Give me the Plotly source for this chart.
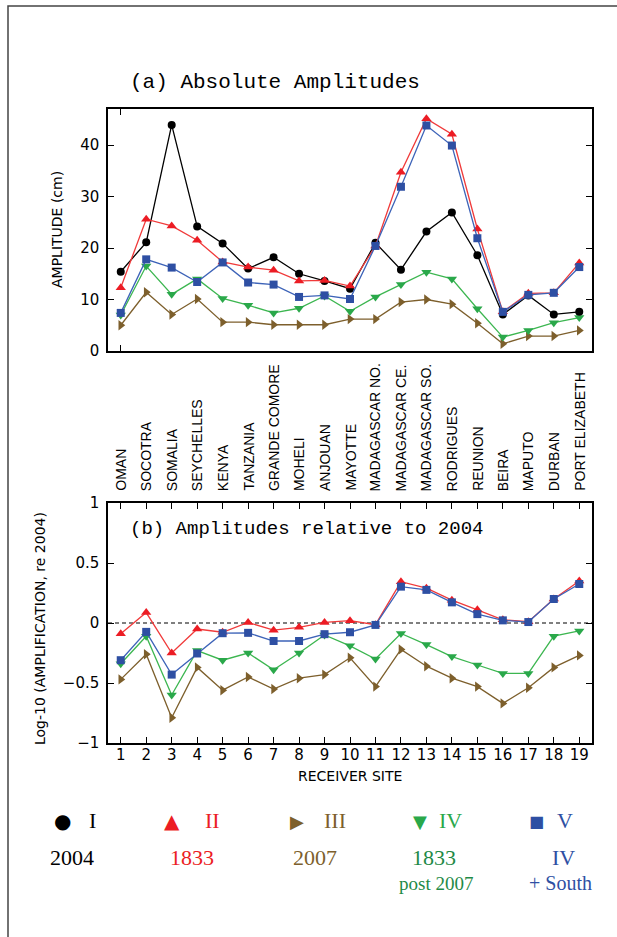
import plotly.graph_objects as go

W, H = 617, 937

sites = list(range(1, 20))
site_names = ["OMAN", "SOCOTRA", "SOMALIA", "SEYCHELLES", "KENYA", "TANZANIA",
              "GRANDE COMORE", "MOHELI", "ANJOUAN", "MAYOTTE", "MADAGASCAR NO.",
              "MADAGASCAR CE.", "MADAGASCAR SO.", "RODRIGUES", "REUNION", "BEIRA",
              "MAPUTO", "DURBAN", "PORT ELIZABETH"]

# (a) absolute amplitudes, cm
amp_I = [15.4, 21.1, 43.9, 24.2, 20.9, 16.0, 18.2, 15.0, 13.6, 12.1, 21.0, 15.8, 23.2, 26.9, 18.6, 7.1, 10.8, 7.1, 7.6]
amp_II = [12.3, 25.6, 24.3, 21.5, 17.3, 16.3, 15.7, 13.6, 13.7, 12.6, 20.4, 34.7, 45.1, 42.1, 23.7, 7.6, 11.2, 11.3, 17.1]
amp_III = [5.0, 11.4, 7.1, 10.1, 5.6, 5.6, 5.1, 5.1, 5.1, 6.2, 6.2, 9.5, 10.0, 9.1, 5.4, 1.4, 2.9, 2.9, 4.0]
amp_IV = [7.0, 16.5, 11.0, 14.0, 10.2, 8.9, 7.4, 8.3, 10.7, 7.7, 10.5, 12.9, 15.3, 14.0, 8.2, 2.7, 4.0, 5.5, 6.5]
amp_V = [7.4, 17.8, 16.2, 13.4, 17.2, 13.3, 12.9, 10.5, 10.8, 10.1, 20.4, 31.9, 43.8, 39.9, 21.9, 7.6, 10.9, 11.3, 16.3]

# (b) log10 amplification relative to 2004
rel_II = [-0.09, 0.087, -0.25, -0.05, -0.077, 0.005, -0.06, -0.036, 0.005, 0.019, -0.014, 0.344, 0.29, 0.19, 0.11, 0.027, 0.011, 0.20, 0.35]
rel_III = [-0.47, -0.26, -0.79, -0.37, -0.56, -0.45, -0.55, -0.46, -0.43, -0.29, -0.53, -0.22, -0.36, -0.46, -0.53, -0.67, -0.54, -0.37, -0.27]
rel_IV = [-0.34, -0.11, -0.60, -0.23, -0.31, -0.25, -0.39, -0.25, -0.10, -0.19, -0.30, -0.087, -0.18, -0.28, -0.35, -0.42, -0.42, -0.11, -0.066]
rel_V = [-0.31, -0.074, -0.43, -0.254, -0.085, -0.082, -0.15, -0.15, -0.093, -0.077, -0.016, 0.303, 0.276, 0.172, 0.074, 0.022, 0.008, 0.20, 0.325]

y_ticks_a = [0, 10, 20, 30, 40]
y_ticks_b = [-1, -0.5, 0, 0.5, 1]
y_ticklabels_b = ["\u22121", "\u22120.5", "0", "0.5", "1"]

BLACK = "#000000"
RED = "#ec1c24"
BROWN = "#7d5f2c"
GREEN = "#2aa84a"
BLUE = "#2e4fa3"
RED_L = "#f03a3a"
GREEN_L = "#3cb650"
BLUE_L = "#3d63b8"


def px(x):
    return x / W


def py(y):
    return 1 - y / H


fig = go.Figure()

series_a = [
    (amp_III, BROWN, BROWN, "triangle-right", 9),
    (amp_IV, GREEN_L, GREEN, "triangle-down", 9),
    (amp_I, BLACK, BLACK, "circle", 8),
    (amp_II, RED_L, RED, "triangle-up", 9),
    (amp_V, BLUE_L, BLUE, "square", 8),
]
for vals, lc, mc, sym, ms in series_a:
    fig.add_trace(go.Scatter(x=sites, y=vals, mode="lines+markers", xaxis="x", yaxis="y",
                             line=dict(color=lc, width=1.3),
                             marker=dict(symbol=sym, size=ms, color=mc, line=dict(width=0)),
                             showlegend=False, hoverinfo="skip"))

series_b = [
    (rel_III, BROWN, BROWN, "triangle-right", 9),
    (rel_IV, GREEN_L, GREEN, "triangle-down", 9),
    (rel_II, RED_L, RED, "triangle-up", 9),
    (rel_V, BLUE_L, BLUE, "square", 8),
]
for vals, lc, mc, sym, ms in series_b:
    fig.add_trace(go.Scatter(x=sites, y=vals, mode="lines+markers", xaxis="x2", yaxis="y2",
                             line=dict(color=lc, width=1.3),
                             marker=dict(symbol=sym, size=ms, color=mc, line=dict(width=0)),
                             showlegend=False, hoverinfo="skip"))

TICKFONT = dict(family="DejaVu Sans", size=15, color="black")

axis_common = dict(showline=True, linecolor="black", linewidth=1.5, mirror="ticks",
                   ticks="inside", ticklen=6, tickwidth=1, tickcolor="black",
                   showgrid=False, zeroline=False, automargin=False, tickfont=TICKFONT)

fig.update_layout(
    width=W, height=H,
    margin=dict(l=0, r=0, t=0, b=0),
    paper_bgcolor="white", plot_bgcolor="white",
    showlegend=False,
    xaxis=dict(domain=[px(108), px(592)], range=[0.5, 19.5], anchor="y",
               tickvals=[1], showticklabels=False, **axis_common),
    yaxis=dict(domain=[py(351), py(109)], range=[0, 47], anchor="x",
               tickvals=y_ticks_a, ticklabelstandoff=4, **axis_common),
    xaxis2=dict(domain=[px(108), px(592)], range=[0.5, 19.5], anchor="y2",
                tickvals=sites, ticktext=[str(s) for s in sites], ticklabelstandoff=-3,
                **axis_common),
    yaxis2=dict(domain=[py(743), py(503)], range=[-1, 1], anchor="x2",
                tickvals=y_ticks_b, ticktext=y_ticklabels_b, ticklabelstandoff=4,
                **axis_common),
)

# zero reference line in panel (b)
fig.add_shape(type="line", xref="x2 domain", yref="y2", x0=0, x1=1, y0=0, y1=0,
              line=dict(color="black", width=1.2, dash="4px,3px"), layer="below")

# outer frame
fig.add_shape(type="rect", xref="paper", yref="paper", x0=px(8), x1=px(W + 20),
              y0=py(H + 20), y1=py(6), line=dict(color="#444444", width=1.5))

ann = []
# panel titles
ann.append(dict(text="(a) Absolute Amplitudes", x=px(128), y=py(82), xanchor="left", yanchor="middle",
                font=dict(family="Liberation Mono", size=21, color="black")))
ann.append(dict(text="(b) Amplitudes relative to 2004", x=px(128), y=py(529), xanchor="left",
                yanchor="middle", font=dict(family="Liberation Mono", size=19, color="black")))
# axis titles
ann.append(dict(text="AMPLITUDE (cm)", x=px(57), y=py(230), textangle=-90, xanchor="center",
                yanchor="middle", font=dict(family="DejaVu Sans", size=14, color="black")))
ann.append(dict(text="Log-10 (AMPLIFICATION, re 2004)", x=px(40), y=py(629), textangle=-90,
                xanchor="center", yanchor="middle", font=dict(family="DejaVu Sans", size=14, color="black")))
ann.append(dict(text="RECEIVER SITE", x=px(350), y=py(776), xanchor="center", yanchor="middle",
                font=dict(family="DejaVu Sans", size=14, color="black")))

# site names
for s, name in zip(sites, site_names):
    ann.append(dict(text=name, x=s, xref="x", y=py(493), yref="paper", textangle=-90,
                    xanchor="center", yanchor="bottom",
                    font=dict(family="Liberation Sans", size=14, color="black")))

SERIF = "Liberation Serif"
legend_items = [
    ("\u25CF", 62, 20, "I", 92, BLACK, [("2004", 72, 857, 22, BLACK)]),
    ("\u25B2", 172, 20, "II", 212, RED, [("1833", 192, 857, 22, RED)]),
    ("\u25B6", 297, 18, "III", 335, BROWN, [("2007", 315, 857, 22, BROWN)]),
    ("\u25BC", 420, 18, "IV", 451, GREEN, [("1833", 434, 857, 22, "#1f8a47"),
                                             ("post 2007", 436, 883, 19, "#1f8a47")]),
    ("\u25A0", 536, 16, "V", 565, BLUE, [("IV", 563, 857, 22, BLUE),
                                          ("+ South", 560, 883, 20, BLUE)]),
]
for sym, sx, ssz, lab, lx, col, lines in legend_items:
    ann.append(dict(text=sym, x=px(sx), y=py(821), xanchor="center", yanchor="middle",
                    font=dict(family="DejaVu Sans", size=ssz, color=col)))
    ann.append(dict(text=lab, x=px(lx), y=py(820), xanchor="center", yanchor="middle",
                    font=dict(family=SERIF, size=22, color=col)))
    for t, tx, ty, tsz, tc in lines:
        ann.append(dict(text=t, x=px(tx), y=py(ty), xanchor="center", yanchor="middle",
                        font=dict(family=SERIF, size=tsz, color=tc)))

for a in ann:
    a.setdefault("xref", "paper")
    a.setdefault("yref", "paper")
    a["showarrow"] = False
fig.update_layout(annotations=ann)

fig.write_html("out.html", config={"displayModeBar": False},
               post_script="document.body.style.margin='0';document.body.style.overflow='hidden';")
